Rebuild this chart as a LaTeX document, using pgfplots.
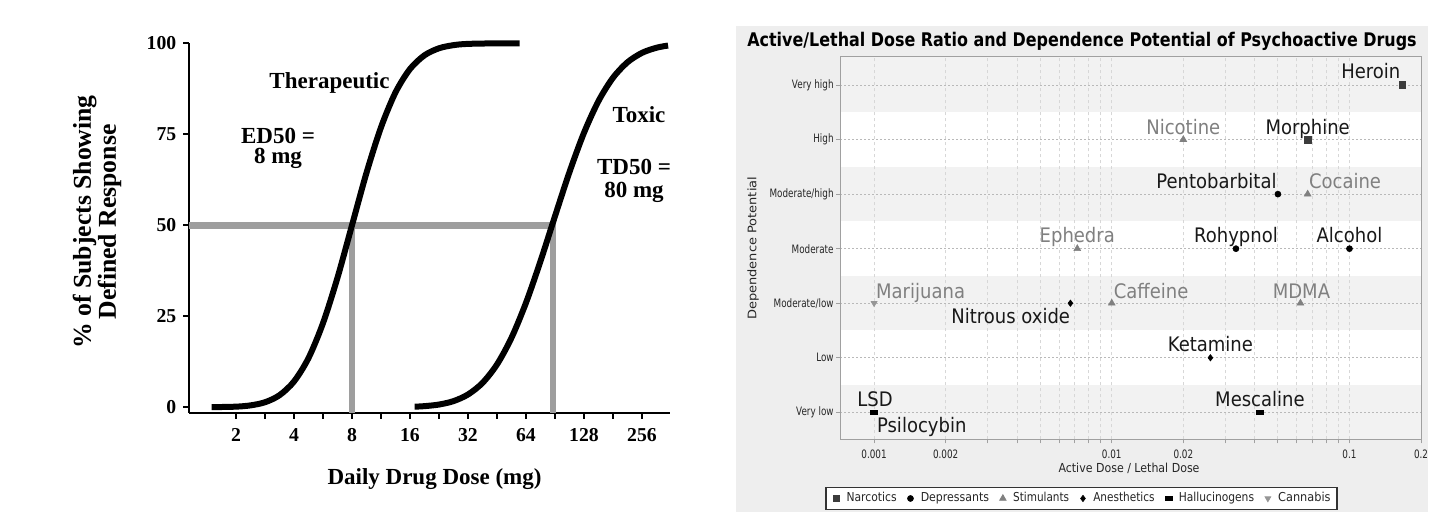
\documentclass[border=0pt]{standalone}
\usepackage{fontspec}
\setmainfont{Liberation Serif}
\newfontfamily\dvfont{DejaVu Sans}
\newfontfamily\lblfont[FakeStretch=0.9]{DejaVu Sans}
\newfontfamily\legfont[FakeStretch=0.87]{DejaVu Sans}
\newfontfamily\tickfont[FakeStretch=0.76]{DejaVu Sans}
\usepackage{graphicx}
\usepackage{pgfplots}
\pgfplotsset{compat=1.18}
\definecolor{curvegray}{RGB}{158,158,158}
\definecolor{bggray}{RGB}{238,238,238}
\definecolor{bandgray}{RGB}{242,242,242}
\definecolor{gridv}{RGB}{215,215,215}
\definecolor{gridh}{RGB}{185,185,185}
\definecolor{framec}{RGB}{160,160,160}
\definecolor{narc}{RGB}{60,60,60}
\definecolor{stim}{RGB}{128,128,128}
\definecolor{cann}{RGB}{150,150,150}
\definecolor{labblack}{RGB}{25,25,25}
\definecolor{labgray}{RGB}{128,128,128}
\pgfplotsset{set layers,
  mymarks/.style={only marks, line width=0.3pt,
    legend image code/.code={\path (-1.75pt,0pt) (1.75pt,0pt); \draw[##1] plot coordinates {(0pt,0pt)};}}}
\begin{document}
\begin{tikzpicture}
\path (0,0) rectangle (723pt,-261.5pt);

% ---------------- left panel ----------------
\begin{axis}[at={(94.65pt,-206.35pt)}, anchor=south west, scale only axis,
  width=240.35pt, height=184.7pt,
  xmin=0.195, xmax=8.483, ymin=-1.5, ymax=100,
  axis x line=bottom, axis y line=left,
  axis line style={line width=1pt, -},
  xtick={1,2,3,4,5,6,7,8}, xticklabels={2,4,8,16,32,64,128,256},
  minor xtick={1.5,2.5,3.5,4.5,5.5,6.5,7.5},
  ytick={0,25,50,75,100}, yticklabels={0,25,50,75,100},
  tick align=outside, major tick length=3pt, minor tick length=3pt,
  tick style={line width=1pt, black},
  ticklabel style={font=\bfseries\fontsize{9.85}{11}\selectfont},
  xticklabel style={yshift=-1.5pt},
  clip=false]
\addplot[curvegray, line width=3.5pt] coordinates {(0.195,50) (6.51,50)};
\addplot[curvegray, line width=3pt] coordinates {(3.0,-1.5) (3.0,50)};
\addplot[curvegray, line width=3pt] coordinates {(6.46,-1.5) (6.46,50)};
\addplot[black, line width=3pt, smooth] coordinates {
 (0.58,0.02) (1.0,0.16) (1.25,0.51) (1.5,1.37) (1.75,3.3) (2.0,7.07) (2.25,13.5)
 (2.5,23.1) (2.75,35.6) (3.0,50) (3.25,64.4) (3.5,76.9) (3.75,86.5) (4.0,92.93)
 (4.25,96.7) (4.5,98.63) (4.75,99.49) (5.0,99.84) (5.5,99.99) (5.89,100)};
\addplot[black, line width=3pt, smooth] coordinates {
 (4.08,0.15) (4.25,0.3) (4.5,0.74) (4.75,1.68) (5.0,3.5) (5.25,6.68) (5.5,11.75)
 (5.75,19.08) (6.0,28.69) (6.25,40.13) (6.5,52.49) (6.75,64.62) (7.0,75.41)
 (7.25,84.13) (7.5,90.53) (7.75,94.79) (8.0,97.37) (8.25,98.78) (8.45,99.38)};
\end{axis}
\begin{scope}[every node/.style={font=\bfseries\fontsize{11.5}{10}\selectfont, anchor=base, inner sep=0pt, align=center}]
\node at (164.75pt,-44.5pt) {Therapeutic};
\node at (139pt,-81.6pt) {ED50 =\\8 mg};
\node at (319.5pt,-61.5pt) {Toxic};
\node at (317pt,-98.75pt) {TD50 =\\[1.25pt]80 mg};
\node at (217.25pt,-242.5pt) {Daily Drug Dose (mg)};
\end{scope}
\node[rotate=90, align=center, font=\bfseries\fontsize{12.85}{12.5}\selectfont, inner sep=0pt] at (48.5pt,-111pt) {\% of Subjects Showing\\Defined Response};

% ---------------- right panel ----------------
\node[anchor=base, inner sep=0pt] at (541pt,-23.35pt) {\resizebox{334.7pt}{\height}{\dvfont\bfseries\fontsize{9.4}{11}\selectfont Active/Lethal Dose Ratio and Dependence Potential of Psychoactive Drugs}};
\node[rotate=90, inner sep=0pt, font=\dvfont\fontsize{5.9}{7}\selectfont, text=black!85] at (376.5pt,-124.15pt) {\resizebox{71.5pt}{\height}{Dependence Potential}};
\node[inner sep=0pt, font=\dvfont\fontsize{6.2}{7}\selectfont, text=black!85] at (564.5pt,-234pt) {\resizebox{70.5pt}{\height}{Active Dose / Lethal Dose}};

\begin{axis}[at={(420pt,-219.65pt)}, anchor=south west, scale only axis,
  width=290.5pt, height=191.3pt,
  xmode=log, xmin=0.000719, xmax=0.2, ymin=-0.495, ymax=6.52,
  axis line style={draw=framec, line width=0.5pt},
  xtick={0.001,0.002,0.01,0.02,0.1,0.2}, xticklabels={0.001,0.002,0.01,0.02,0.1,0.2},
  minor xtick={0.003,0.004,0.005,0.006,0.007,0.008,0.009,0.03,0.04,0.05,0.06,0.07,0.08,0.09},
  ytick={0,1,2,3,4,5,6},
  yticklabels={Very low,Low,Moderate/low,Moderate,Moderate/high,High,Very high},
  xtick pos=bottom, ytick pos=left, tick align=outside,
  major tick length=2pt, minor tick length=2pt,
  tick style={draw=framec, line width=0.5pt},
  xmajorgrids, xminorgrids, ymajorgrids,
  major x grid style={gridv, dash pattern=on 1.5pt off 1.5pt, line width=0.5pt},
  minor x grid style={gridv, dash pattern=on 1.5pt off 1.5pt, line width=0.5pt},
  major y grid style={gridh, dash pattern=on 0.75pt off 1.25pt, line width=0.5pt},
  ticklabel style={font=\tickfont\fontsize{5.8}{6}\selectfont, text=black!85},
  yticklabel style={inner xsep=1pt},
  legend columns=6,
  legend style={at={(axis description cs:0.4157,-0.1547)}, anchor=center,
    draw=black!80, line width=0.75pt, fill=white, inner xsep=3.25pt, inner ysep=2.4pt,
    font=\legfont\fontsize{6.15}{7}\selectfont, nodes={inner sep=0pt, text=black!85},
    /tikz/every odd column/.append style={column sep=3.25pt},
    /tikz/every even column/.append style={column sep=5pt}},
  clip=false]
\begin{pgfonlayer}{axis background}
\fill[bggray] (rel axis cs:-0.179,-0.19) rectangle (rel axis cs:1.012,1.0802);
\fill[white] (rel axis cs:0,0) rectangle (rel axis cs:1,1);
\fill[bandgray] (axis cs:0.000719,5.5) rectangle (axis cs:0.2,6.52);
\fill[bandgray] (axis cs:0.000719,3.5) rectangle (axis cs:0.2,4.5);
\fill[bandgray] (axis cs:0.000719,1.5) rectangle (axis cs:0.2,2.5);
\fill[bandgray] (axis cs:0.000719,-0.495) rectangle (axis cs:0.2,0.5);
\end{pgfonlayer}
\addplot[mymarks, mark=square*, mark size=1.65pt, color=narc] coordinates {(0.167,6) (0.0667,5)};
\addlegendentry{\resizebox{25.05pt}{\height}{Narcotics}}
\addplot[mymarks, mark=*, mark size=1.5pt, color=black] coordinates {(0.05,4) (0.0333,3) (0.1,3)};
\addlegendentry{\resizebox{34.15pt}{\height}{Depressants}}
\addplot[mymarks, mark=triangle*, mark size=1.95pt, color=stim] coordinates {(0.02,5) (0.0667,4) (0.00716,3) (0.01,2) (0.0622,2)};
\addlegendentry{\resizebox{28pt}{\height}{Stimulants}}
\addplot[mymarks, mark=diamond*, mark size=1.6pt, color=black] coordinates {(0.0067,2) (0.026,1)};
\addlegendentry{\resizebox{30.7pt}{\height}{Anesthetics}}
\addplot[mymarks, mark=square*, mark size=1.75pt, mark options={yscale=0.5}, color=black] coordinates {(0.001,0) (0.001,0) (0.042,0)};
\addlegendentry{\resizebox{37.65pt}{\height}{Hallucinogens}}
\addplot[mymarks, mark=triangle*, mark size=1.7pt, mark options={rotate=180}, color=cann] coordinates {(0.001,2)};
\addlegendentry{\resizebox{26.2pt}{\height}{Cannabis}}
\begin{scope}[every node/.style={font=\lblfont\fontsize{10}{12}\selectfont, inner sep=0pt, text=labblack}]
\node[anchor=base east, xshift=-0.85pt, yshift=3.35pt] at (axis cs:0.167,6) {Heroin};
\node[anchor=base, yshift=2.3pt] at (axis cs:0.0667,5) {Morphine};
\node[anchor=base, yshift=2.5pt, text=labgray] at (axis cs:0.02,5) {Nicotine};
\node[anchor=base east, xshift=-0.5pt, yshift=2.9pt] at (axis cs:0.05,4) {Pentobarbital};
\node[anchor=base west, xshift=0.5pt, yshift=2.9pt, text=labgray] at (axis cs:0.0667,4) {Cocaine};
\node[anchor=base, yshift=3pt, text=labgray] at (axis cs:0.00716,3) {Ephedra};
\node[anchor=base, yshift=3pt] at (axis cs:0.0333,3) {Rohypnol};
\node[anchor=base, yshift=3pt] at (axis cs:0.1,3) {Alcohol};
\node[anchor=base west, xshift=0.85pt, yshift=2.45pt, text=labgray] at (axis cs:0.001,2) {Marijuana};
\node[anchor=north east, yshift=-2.5pt] at (axis cs:0.0067,2) {Nitrous oxide};
\node[anchor=base west, xshift=0.8pt, yshift=2.45pt, text=labgray] at (axis cs:0.01,2) {Caffeine};
\node[anchor=base, xshift=0.5pt, yshift=2.45pt, text=labgray] at (axis cs:0.0622,2) {MDMA};
\node[anchor=base, yshift=2.9pt] at (axis cs:0.026,1) {Ketamine};
\node[anchor=base, xshift=0.5pt, yshift=2.8pt] at (axis cs:0.001,0) {LSD};
\node[anchor=north west, xshift=1.3pt, yshift=-2.2pt] at (axis cs:0.001,0) {Psilocybin};
\node[anchor=base, yshift=2.8pt] at (axis cs:0.042,0) {Mescaline};
\end{scope}
\end{axis}
\end{tikzpicture}
\end{document}
